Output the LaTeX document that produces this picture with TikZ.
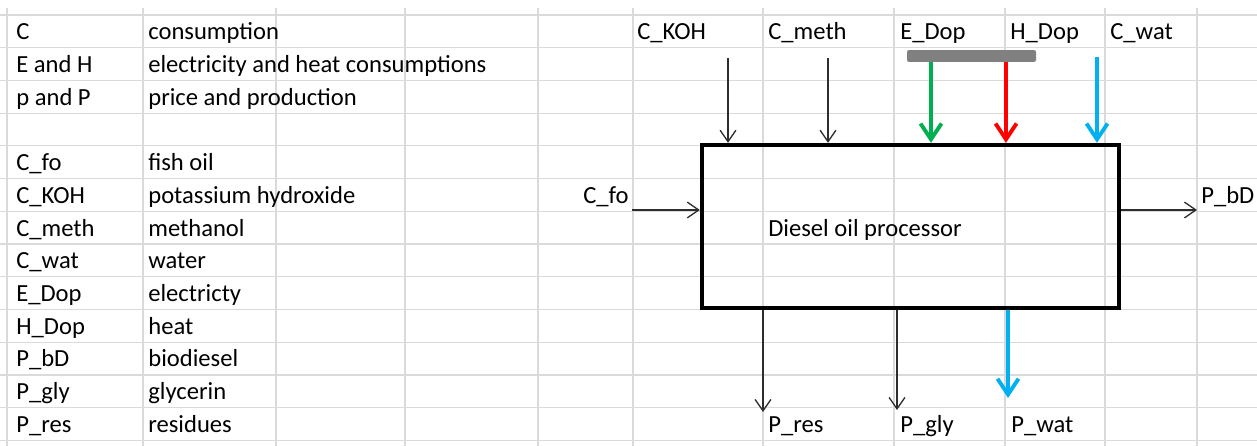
\documentclass[tikz,border=0pt]{standalone}
\usepackage{fontspec}
\setmainfont{Carlito}
\usetikzlibrary{arrows.meta,positioning}
\definecolor{gridgray}{RGB}{218,218,218}
\definecolor{elgreen}{RGB}{0,176,80}
\definecolor{heatred}{RGB}{255,0,0}
\definecolor{watblue}{RGB}{0,176,240}
\definecolor{busgray}{RGB}{128,128,128}
\definecolor{linkgray}{RGB}{45,45,45}
\tikzset{
  cell/.style    = {anchor=base west,inner sep=0pt,font=\fontsize{14}{17}\selectfont},
  procbox/.style = {draw=black,line width=2.5pt,minimum width=8.34cm,
                    minimum height=3.26cm,inner sep=0pt},
  bus/.style     = {fill=busgray,rounded corners=1.2pt,minimum width=2.58cm,
                    minimum height=0.24cm,inner sep=0pt},
  flow/.style    = {-{Straight Barb[length=6.5pt,width=9pt]},line width=0.75pt,color=linkgray},
  eflow/.style   = {-{Straight Barb[length=9pt,width=12pt]},line width=2.2pt},
  gridline/.style= {draw=gridgray,line width=0.7pt},
}

\begin{document}
\begin{tikzpicture}[x=0.02cm,y=-0.02cm]
  \useasboundingbox (0,0) rectangle (1257,446);
  \fill[white] (0,0) rectangle (1257,446);
  \foreach \gx in {7,143,276,405,538,633,763,894,1005,1105,1197}
    \draw[gridline] (\gx,8) -- (\gx,446);
  \foreach \k in {0,...,13}
    \draw[gridline] (0,{15+32.72*\k}) -- (1257,{15+32.72*\k});
  \foreach \k/\sym/\desc in {0/C/consumption,
      1/E and H/electricity and heat consumptions,
      2/p and P/price and production,
      4/C\_fo/fish oil, 5/C\_KOH/potassium hydroxide, 6/C\_meth/methanol,
      7/C\_wat/water, 8/E\_Dop/electricty, 9/H\_Dop/heat,
      10/P\_bD/biodiesel, 11/P\_gly/glycerin, 12/P\_res/residues}{
    \node[cell] (sym\k) at (16,{15+32.72*(\k+1)-8}) {\sym};
    \node[cell] (desc\k) at (148,{15+32.72*(\k+1)-8}) {\desc};
  }

  \node[procbox] (dop) at (910.5,226.5) {};
  \node[cell] (doptxt) at (768,236.6) {Diesel oil processor};
  \node[bus] (bus) at (971.5,56) {};

  \node[cell] (koh)  at (637,39.7)  {C\_KOH};
  \node[cell] (meth) at (768,39.7)  {C\_meth};
  \node[cell] (edop) at (900,39.7)  {E\_Dop};
  \node[cell] (hdop) at (1010,39.7) {H\_Dop};
  \node[cell] (cwat) at (1110,39.7) {C\_wat};
  \node[cell] (cfo)  at (583,203)   {C\_fo};
  \node[cell] (pbd)  at (1201,203)  {P\_bD};
  \node[cell] (pres) at (768,432.4) {P\_res};
  \node[cell] (pgly) at (900,432.4) {P\_gly};
  \node[cell] (pwat) at (1011,432.4){P\_wat};

  \coordinate (kohin)  at (728,58);
  \coordinate (methin) at (828,58);
  \coordinate (elin)   at (931,56);
  \coordinate (heatin) at (1006,56);
  \coordinate (watin)  at (1097,57);
  \coordinate (foin)   at (632,210);
  \coordinate (bdout)  at (1197,210);
  \coordinate (resout) at (763,412);
  \coordinate (glyout) at (897,410);
  \coordinate (watout) at (1008,398);

  \draw[flow] (kohin) -- (kohin |- dop.north);
  \draw[flow] (methin) -- (methin |- dop.north);
  \draw[eflow,elgreen] (bus.south -| elin) -- (elin |- dop.north);
  \draw[eflow,heatred] (bus.south -| heatin) -- (heatin |- dop.north);
  \draw[eflow,watblue] (watin) -- (watin |- dop.north);
  \draw[flow] (foin) -- (foin -| dop.west);
  \draw[flow] (dop.east |- bdout) -- (bdout);
  \draw[flow] (dop.south -| resout) -- (resout);
  \draw[flow] (dop.south -| glyout) -- (glyout);
  \draw[eflow,watblue] (dop.south -| watout) -- (watout);
\end{tikzpicture}
\end{document}
